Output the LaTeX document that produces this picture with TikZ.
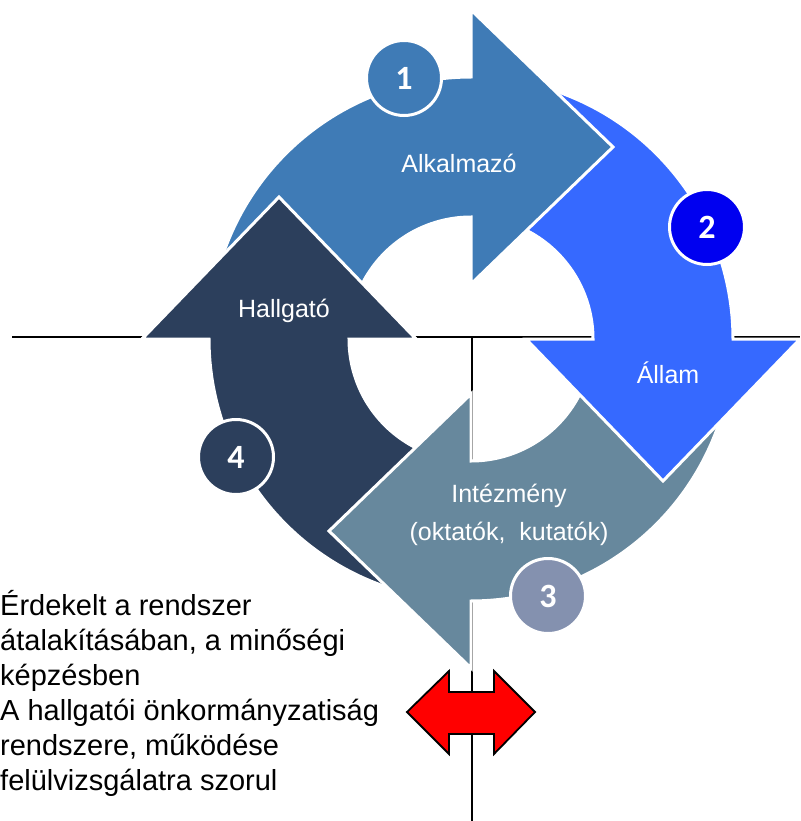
\documentclass[tikz,border=0pt]{standalone}
\usepackage{fontspec}
\setmainfont{Liberation Sans}
\newfontfamily\numfont{Carlito}
\definecolor{aone}{HTML}{3F7BB6}
\definecolor{atwo}{HTML}{3669FF}
\definecolor{athree}{HTML}{67889D}
\definecolor{afour}{HTML}{2C3F5C}
\definecolor{ctwo}{HTML}{0000F0}
\definecolor{cthree}{HTML}{8491AF}
\def\cx{471}
\def\cy{339}
% #1 base angle, #2 tail angle, #3 colour
\newcommand{\cyclearrow}[3]{%
  \filldraw[fill=#3, draw=white, line width=3pt, line join=miter]
   plot[domain=#2:#1, samples=60] ({\cx+262*cos(\x)},{\cy-262*sin(\x)})
   -- ({\cx+329*cos(#1)},{\cy-329*sin(#1)})
   -- ({\cx+192*cos(#1)+142*sin(#1)},{\cy-192*sin(#1)+142*cos(#1)})
   -- ({\cx+55*cos(#1)},{\cy-55*sin(#1)})
   -- plot[domain=#1:#2, samples=60] ({\cx+122*cos(\x)},{\cy-122*sin(\x)})
   -- cycle;}
\tikzset{
  axisline/.style={draw=black, line width=1.7pt},
  numcircle/.style={circle, draw=white, line width=3pt, minimum size=75pt, inner sep=0pt,
    text=white, font=\numfont\bfseries\fontsize{34}{34}\selectfont},
  arrlabel/.style={anchor=base, text=white, inner sep=0pt, font=\fontsize{25}{30}\selectfont},
  sidetext/.style={anchor=base west, inner sep=0pt, text=black, font=\fontsize{29}{35}\selectfont},
}
\begin{document}
\begin{tikzpicture}[x=1pt,y=-1pt]
\useasboundingbox (0,0) rectangle (800,821);
% axis lines
\coordinate (hl) at (12,337);
\coordinate (hr) at (800,337);
\coordinate (vt) at (472,337);
\coordinate (vb) at (472,821);
\draw[axisline] (hl) -- (hr);
\draw[axisline] (vt) -- (vb);
% cycle arrows (each head lies over the next tail)
\cyclearrow{180}{255}{afour}
\cyclearrow{-90}{-15}{athree}
\cyclearrow{0}{75}{atwo}
\cyclearrow{90}{165}{aone}
\begin{scope}
  \clip (0,0) rectangle (440,339);
  \cyclearrow{180}{255}{afour}
\end{scope}
% labels on arrows
\node[arrlabel] (lab1) at (459,172) {Alkalmazó};
\node[arrlabel] (lab2) at (668,383) {Állam};
\node[arrlabel] (lab3a) at (509,502) {Intézmény};
\node[arrlabel] (lab3b) at (509,540) {(oktatók,\ \ kutatók)};
\node[arrlabel] (lab4) at (284,317) {Hallgató};
% numbered circles
\node[numcircle, fill=aone] (n1) at (404,78) {1};
\node[numcircle, fill=ctwo] (n2) at (707,227) {2};
\node[numcircle, fill=cthree] (n3) at (548,596) {3};
\node[numcircle, fill=afour] (n4) at (236,457) {4};
% red double arrow
\filldraw[fill=red, draw=black, line width=1.8pt, line join=miter]
  (407,712) -- (449,671) -- (449,692) -- (494,692) -- (494,671) -- (535,712)
  -- (494,754) -- (494,734) -- (449,734) -- (449,754) -- cycle;
% side text
\node[sidetext] (t1) at (0,615) {Érdekelt a rendszer};
\node[sidetext] (t2) at (0,650) {átalakításában, a minőségi};
\node[sidetext] (t3) at (0,685) {képzésben};
\node[sidetext] (t4) at (0,720) {A hallgatói önkormányzatiság};
\node[sidetext] (t5) at (0,755) {rendszere, működése};
\node[sidetext] (t6) at (0,790) {felülvizsgálatra szorul};
\end{tikzpicture}
\end{document}
